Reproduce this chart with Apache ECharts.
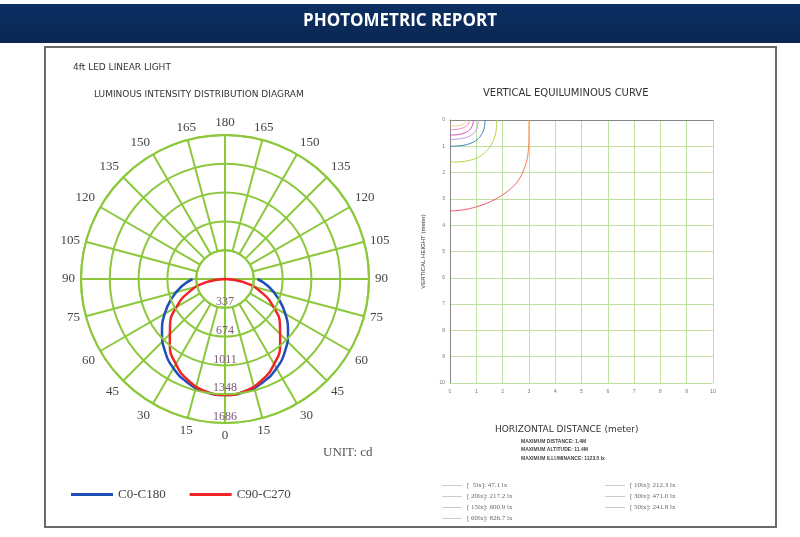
<!DOCTYPE html>
<html>
<head>
<meta charset="utf-8">
<script src="https://cdn.jsdelivr.net/npm/echarts@6/dist/echarts.min.js"></script>
<style>
  html, body { margin: 0; padding: 0; background: #fff; }
  #main { width: 800px; height: 537px; }
</style>
</head>
<body>
<div id="main"></div>
<script>
/* polar curve data (cd), angles 0..90 step 10, mirrored for the other half */
const angles = [0, 10, 20, 30, 40, 50, 60, 70, 80, 90];
const c0c180 = [1358, 1341, 1289, 1207, 1096, 963, 816, 664, 521, 380];
const c90c270 = [1358, 1333, 1262, 1150, 1005, 840, 655, 450, 230, 0];
const radiusTicks = ["", "337", "674", "1011", "1348", "1686"];

/* iso-lux curves, [x m, y m] */
const isoNames = [
  "[  5lx]: 47.1 lx", "[ 20lx]: 217.2 lx", "[ 15lx]: 600.9 lx", "[ 60lx]: 826.7 lx",
  "[ 10lx]: 212.3 lx", "[ 30lx]: 471.0 lx", "[ 50lx]: 241.8 lx"
];
const iso1 = [[3.0, 0], [3.0, 0.6], [2.98, 1.1], [2.93, 1.5], [2.8, 1.9], [2.6, 2.3], [2.3, 2.62], [1.95, 2.88], [1.55, 3.1], [1.1, 3.27], [0.6, 3.4], [0, 3.46]];
const iso2 = [[1.78, 0], [1.76, 0.35], [1.68, 0.7], [1.53, 1.0], [1.32, 1.25], [1.05, 1.43], [0.72, 1.54], [0.36, 1.59], [0, 1.6]];
const iso3 = [[1.33, 0], [1.3, 0.3], [1.2, 0.55], [1.03, 0.75], [0.8, 0.88], [0.52, 0.96], [0.25, 0.99], [0, 1.0]];
const iso4 = [[1.08, 0], [1.04, 0.28], [0.92, 0.48], [0.72, 0.62], [0.46, 0.7], [0.22, 0.73], [0, 0.74]];
const iso5 = [[0.89, 0], [0.85, 0.22], [0.74, 0.38], [0.56, 0.49], [0.34, 0.55], [0.15, 0.57], [0, 0.57]];
const iso6 = [[0.74, 0], [0.7, 0.15], [0.58, 0.26], [0.4, 0.33], [0.2, 0.36], [0, 0.37]];
const iso7 = [[0.63, 0], [0.58, 0.1], [0.46, 0.18], [0.3, 0.22], [0.14, 0.23], [0, 0.24]];
const isoColors = ["#f0a050", "#b4d040", "#3f7fb0", "#c49ae0", "#e050c0", "#f088c8", "#f8c890"];

const green = "#8cc83c";

// left half goes 90 -> 0, right half 360 -> 270
const halfCurve = (vals) => {
  let pts = [];
  for (let i = angles.length - 1; i >= 0; i--) pts.push([vals[i], angles[i]]);
  for (let i = 1; i < angles.length; i++) pts.push([vals[i], 360 - angles[i]]);
  return pts;
};

let chartDom = document.getElementById("main");
let myChart = echarts.init(chartDom);

const isoData = [iso1, iso2, iso3, iso4, iso5, iso6, iso7];
const isoSeries = isoData.map((d, i) => ({
  name: isoNames[i],
  type: "line",
  xAxisIndex: 0,
  yAxisIndex: 0,
  data: d,
  smooth: 0.4,
  symbol: "none",
  lineStyle: {
    width: 1,
    color: i === 0
      ? new echarts.graphic.LinearGradient(0, 0, 0, 1, [
          { offset: 0, color: "#f0a040" },
          { offset: 1, color: "#f05070" },
        ])
      : isoColors[i],
  },
  itemStyle: { color: "#cccccc" },
}));

const isoLegend = {
  orient: "vertical",
  top: 477,
  height: 56,
  icon: "rect",
  itemWidth: 20,
  itemHeight: 1,
  itemGap: 4,
  itemStyle: { color: "#cccccc" },
  textStyle: { fontSize: 7, color: "#666", fontFamily: "Liberation Serif" },
};

let option = {
  animation: false,
  backgroundColor: "#fff",
  graphic: [
    {
      type: "rect",
      shape: { x: 0, y: 4, width: 800, height: 39 },
      style: {
        fill: new echarts.graphic.LinearGradient(0, 0, 0, 1, [
          { offset: 0, color: "#0b2f63" },
          { offset: 1, color: "#0a2752" },
        ]),
      },
    },
    {
      type: "text",
      left: "center",
      top: 13,
      style: {
        text: "PHOTOMETRIC REPORT",
        fill: "#fff",
        font: "bold 17px 'Open Sans'",
      },
    },
    {
      type: "rect",
      shape: { x: 45, y: 47, width: 731, height: 480 },
      style: { fill: "none", stroke: "#6a6a6a", lineWidth: 2 },
    },
  ],
  title: [
    { text: "4ft LED LINEAR LIGHT", left: 68, top: 58, textStyle: { fontSize: 9, fontWeight: "normal", color: "#333", fontFamily: "DejaVu Sans" } },
    { text: "LUMINOUS INTENSITY DISTRIBUTION DIAGRAM", left: 89, top: 85, textStyle: { fontSize: 9, fontWeight: "normal", color: "#333", fontFamily: "DejaVu Sans" } },
    { text: "VERTICAL EQUILUMINOUS CURVE", left: 478, top: 83, textStyle: { fontSize: 10, fontWeight: "normal", color: "#333", fontFamily: "DejaVu Sans" } },
    { text: "UNIT: cd", left: 318, top: 441, textStyle: { fontSize: 13, fontWeight: "normal", color: "#555", fontFamily: "Liberation Serif" } },
    { text: "HORIZONTAL DISTANCE (meter)", left: 490, top: 420, textStyle: { fontSize: 9, fontWeight: "normal", color: "#333", fontFamily: "DejaVu Sans" } },
    { text: "MAXIMUM DISTANCE: 1.4M", left: 516, top: 434, textStyle: { fontSize: 5, fontWeight: "bold", color: "#444" } },
    { text: "MAXIMUM ALTITUDE: 11.4M", left: 516, top: 442, textStyle: { fontSize: 5, fontWeight: "bold", color: "#444" } },
    { text: "MAXIMUM ILLUMINANCE: 1123.5 lx", left: 516, top: 451, textStyle: { fontSize: 5, fontWeight: "bold", color: "#444" } },
  ],
  legend: [
    {
      data: ["C0-C180", "C90-C270"],
      left: 66,
      top: 483,
      icon: "rect",
      itemWidth: 42,
      itemHeight: 3,
      itemGap: 24,
      textStyle: { fontSize: 13, color: "#444", fontFamily: "Liberation Serif" },
    },
    Object.assign({ data: isoNames.slice(0, 4), left: 437 }, isoLegend),
    Object.assign({ data: isoNames.slice(4), left: 600 }, isoLegend),
  ],
  polar: [
    { center: [225, 279], radius: [0, 144] },
    { center: [225, 279], radius: [28.8, 144] },
  ],
  angleAxis: [
    {
      polarIndex: 0,
      type: "value",
      min: 0,
      max: 360,
      interval: 90,
      startAngle: -90,
      clockwise: true,
      axisLine: { show: false },
      axisTick: { show: false },
      axisLabel: { show: false },
      splitLine: { show: true, lineStyle: { color: green, width: 2 } },
    },
    {
      polarIndex: 1,
      type: "value",
      min: 0,
      max: 360,
      interval: 15,
      startAngle: -90,
      clockwise: true,
      axisLine: { show: true, lineStyle: { color: green, width: 2 } },
      axisTick: { show: false },
      axisLabel: {
        margin: 6,
        color: "#444",
        fontSize: 13,
        fontFamily: "Liberation Serif",
        formatter: (v) => (v === 360 ? "" : String(v <= 180 ? v : 360 - v)),
      },
      splitLine: { show: true, lineStyle: { color: green, width: 2 } },
    },
  ],
  radiusAxis: [
    {
      polarIndex: 0,
      min: 0,
      max: 1686,
      interval: 337.2,
      axisLine: { show: false },
      axisTick: { show: false },
      axisLabel: {
        margin: 0,
        rotate: 0,
        align: "center",
        verticalAlign: "bottom",
        color: "#7a5a7a",
        fontSize: 12,
        fontFamily: "Liberation Serif",
        formatter: (v, i) => radiusTicks[i] || "",
      },
      splitLine: { show: true, lineStyle: { color: green, width: 2 } },
      z: 5,
    },
    { polarIndex: 1, min: 0, max: 1686, show: false },
  ],
  grid: { left: 450, top: 120, width: 263, height: 263 },
  xAxis: {
    type: "value",
    min: 0,
    max: 10,
    interval: 1,
    axisLine: { lineStyle: { color: "#888" } },
    axisTick: { show: false },
    axisLabel: { fontSize: 5, color: "#777", margin: 6 },
    splitLine: { lineStyle: { color: "#bfe0a0", width: 1 } },
  },
  yAxis: {
    type: "value",
    inverse: true,
    min: 0,
    max: 10,
    interval: 1,
    name: "VERTICAL HEIGHT (meter)",
    nameLocation: "middle",
    nameRotate: 90,
    nameGap: 24,
    nameTextStyle: { fontSize: 6, color: "#333" },
    axisLine: { lineStyle: { color: "#888" } },
    axisTick: { show: false },
    axisLabel: { fontSize: 5, color: "#777", margin: 5 },
    splitLine: { lineStyle: { color: "#bfe0a0", width: 1 } },
  },
  series: [
    {
      name: "C0-C180",
      type: "line",
      coordinateSystem: "polar",
      polarIndex: 0,
      data: halfCurve(c0c180),
      smooth: true,
      symbol: "none",
      lineStyle: { color: "#1f4fb8", width: 2.5 },
      itemStyle: { color: "#1f4fb8" },
      z: 3,
    },
    {
      name: "C90-C270",
      type: "line",
      coordinateSystem: "polar",
      polarIndex: 0,
      data: halfCurve(c90c270),
      smooth: true,
      symbol: "none",
      lineStyle: { color: "#f02424", width: 2.5 },
      itemStyle: { color: "#f02424" },
      z: 4,
    },
    ...isoSeries,
  ],
};

option && myChart.setOption(option);
</script>
</body>
</html>
